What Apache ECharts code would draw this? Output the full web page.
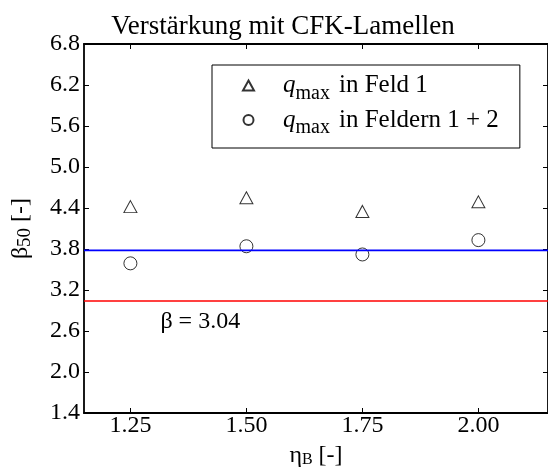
<!DOCTYPE html>
<html>
<head>
<meta charset="utf-8">
<script src="https://cdn.jsdelivr.net/npm/echarts@6/dist/echarts.min.js"></script>
<style>
  html, body { margin: 0; padding: 0; background: #fff; }
  #chart { width: 548px; height: 467px; }
</style>
</head>
<body>
<div id="chart"></div>
<script>
// Reinforcement ratio on the x axis, reliability index beta_50 on the y axis
const etaB = [1.25, 1.50, 1.75, 2.00];
const betaFeld1 = [4.42, 4.55, 4.35, 4.49];      // q_max in Feld 1
const betaFelder12 = [3.59, 3.84, 3.72, 3.93];   // q_max in Feldern 1 + 2
const betaMean = 3.78;                           // blue reference line
const betaTarget = 3.04;                         // red target line
const xRange = [1.15, 2.15];
const yRange = [1.4, 6.8];
const xTicks = [1.25, 1.50, 1.75, 2.00];
const yTicks = [1.4, 2.0, 2.6, 3.2, 3.8, 4.4, 5.0, 5.6, 6.2, 6.8];

const FONT = 'Liberation Serif';
const FS = 24;
const chart = echarts.init(document.getElementById('chart'));

const tickStyle = { show: true, inside: true, length: 5, lineStyle: { color: '#000', width: 1 } };
const lineStyle = { color: '#000', width: 1.8 };

const qRich = {
  q: { fontFamily: FONT, fontStyle: 'italic', fontSize: 25, color: '#000', padding: [0, 0, 0, 24] },
  sub: { fontFamily: FONT, fontSize: 20, color: '#000', padding: [16, 0, 0, 0] },
  t: { fontFamily: FONT, fontSize: 25, color: '#000', padding: [0, 0, 0, 9] }
};

chart.setOption({
  animation: false,
  backgroundColor: '#fff',
  title: {
    text: 'Verstärkung mit CFK-Lamellen',
    left: 278, top: 8, textAlign: 'center',
    textStyle: { fontFamily: FONT, fontSize: 27, fontWeight: 'normal', color: '#000' }
  },
  grid: { left: 84, top: 44, right: 0, bottom: 54, containLabel: false, outerBoundsMode: 'none' },
  legend: {
    left: 212, top: 65,
    orient: 'vertical',
    padding: [8, 21, 10, 30],
    itemGap: 4,
    itemWidth: 11, itemHeight: 10,
    borderColor: '#000', borderWidth: 1,
    backgroundColor: '#fff',
    data: ['feld1', 'felder12'],
    formatter: function (name) {
      return name === 'feld1'
        ? '{q|q}{sub|max}{t|in Feld 1}'
        : '{q|q}{sub|max}{t|in Feldern 1 + 2}';
    },
    textStyle: { rich: qRich }
  },
  xAxis: [{
    type: 'value', min: xRange[0], max: xRange[1],
    name: '{e|η}{b|B}{e| [-]}', nameLocation: 'middle', nameGap: 31,
    nameTextStyle: { rich: {
      e: { fontFamily: FONT, fontSize: FS, color: '#000' },
      b: { fontFamily: FONT, fontSize: 16, color: '#000', padding: [8, 0, 0, 0] }
    } },
    axisLine: { show: true, onZero: false, lineStyle: lineStyle },
    axisTick: Object.assign({ customValues: xTicks }, tickStyle),
    axisLabel: { customValues: xTicks, formatter: v => v.toFixed(2), fontFamily: FONT, fontSize: FS, color: '#000', margin: 1 },
    splitLine: { show: false }
  }, {
    type: 'value', position: 'top', min: xRange[0], max: xRange[1],
    axisLine: { show: true, onZero: false, lineStyle: lineStyle },
    axisTick: Object.assign({ customValues: xTicks }, tickStyle),
    axisLabel: { show: false }, splitLine: { show: false }
  }],
  yAxis: [{
    type: 'value', min: yRange[0], max: yRange[1],
    name: '{e|β}{b|50}{e| [-]}', nameLocation: 'middle', nameGap: 49, nameRotate: 90,
    nameTextStyle: { rich: {
      e: { fontFamily: FONT, fontSize: FS, color: '#000' },
      b: { fontFamily: FONT, fontSize: 19, color: '#000', padding: [10, 0, 0, 0] }
    } },
    axisLine: { show: true, onZero: false, lineStyle: lineStyle },
    axisTick: Object.assign({ customValues: yTicks }, tickStyle),
    axisLabel: { customValues: yTicks, formatter: v => v.toFixed(1), fontFamily: FONT, fontSize: FS, color: '#000', margin: 4 },
    splitLine: { show: false }
  }, {
    type: 'value', position: 'right', min: yRange[0], max: yRange[1],
    axisLine: { show: true, onZero: false, lineStyle: lineStyle },
    axisTick: Object.assign({ customValues: yTicks }, tickStyle),
    axisLabel: { show: false }, splitLine: { show: false }
  }],
  series: [{
    name: 'mean', type: 'line', symbol: 'none', silent: true,
    data: xRange.map(x => [x, betaMean]),
    lineStyle: { color: '#0000ff', width: 1.6 }
  }, {
    name: 'target', type: 'line', symbol: 'none', silent: true,
    data: xRange.map(x => [x, betaTarget]),
    lineStyle: { color: '#ff0000', width: 1.6 }
  }, {
    name: 'feld1', type: 'scatter', symbol: 'triangle', symbolSize: [13, 12],
    data: etaB.map((x, i) => [x, betaFeld1[i]]),
    itemStyle: { color: 'rgba(0,0,0,0)', borderColor: '#000', borderWidth: 1 }
  }, {
    name: 'felder12', type: 'scatter', symbol: 'circle', symbolSize: 13,
    data: etaB.map((x, i) => [x, betaFelder12[i]]),
    itemStyle: { color: 'rgba(0,0,0,0)', borderColor: '#000', borderWidth: 1 }
  }]
});

// Annotate the target line with its value, just below it
const anchor = chart.convertToPixel({ gridIndex: 0 }, [1.25, betaTarget]);
chart.setOption({
  graphic: [{
    type: 'text',
    x: anchor[0] + 30, y: anchor[1] + 9,
    style: {
      text: 'β = ' + betaTarget.toFixed(2),
      fontFamily: FONT, fontSize: 24, fill: '#000'
    }
  }]
});
</script>
</body>
</html>
